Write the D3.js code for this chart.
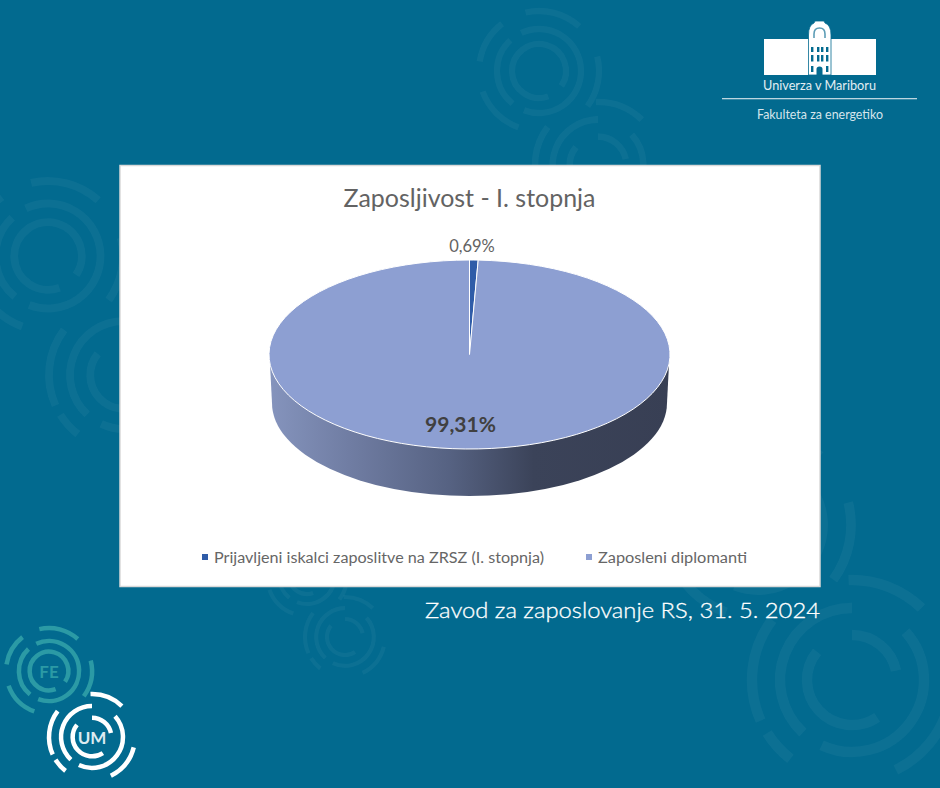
<!DOCTYPE html>
<html><head><meta charset="utf-8">
<script src="https://cdn.jsdelivr.net/npm/d3@7"></script>
<style>html,body{margin:0;padding:0;background:#026a8f}svg{display:block}text{font-family:Lato,"Open Sans",sans-serif}</style>
</head><body><svg id="c" width="940" height="788"></svg>
<script>
const categories = ["Prijavljeni iskalci zaposlitve na ZRSZ (I. stopnja)", "Zaposleni diplomanti"];
const values = [0.69, 99.31];
const valueLabels = ["0,69%", "99,31%"];
const colors = ["#2f5ca8", "#8d9fd2"];
const chartTitle = "Zaposljivost - I. stopnja";
const sourceText = "Zavod za zaposlovanje RS, 31. 5. 2024";

// ring-logo motifs: [radius fraction, start degree, end degree]
const feArcs = [[.45,160,484],[.70,-25,201],[.70,219,317],[1,-13,42],[1,76,126],[1,200,250],[1,279,322]];
const umArcs = [[.45,0,78],[.45,146,309],[.72,-137,0],[.72,48,205],[1,-2,44],[1,104,154],[1,218,238],[1,246,307]];
const bgMotifs = [
  [feArcs,539,71,60],[umArcs,598,165,63],[feArcs,48,256,75],[umArcs,124,375,75],
  [feArcs,758,525,93],[umArcs,852,680,100],[feArcs,307,576,40],[umArcs,345,637,40]
];

const svg = d3.select("#c");
const W = 940, H = 788;
svg.append("rect").attr("width",W).attr("height",H).attr("fill","#026a8f");
const defs = svg.append("defs");

const ringArc = d3.arc();
function motif(arcs,cx,cy,R,color,sw){
  const g = svg.append("g").attr("transform",`translate(${cx},${cy})`);
  g.selectAll("path").data(arcs).join("path")
    .attr("d",a=>ringArc({innerRadius:a[0]*R,outerRadius:a[0]*R,startAngle:a[1]*Math.PI/180,endAngle:a[2]*Math.PI/180}))
    .attr("fill","none").attr("stroke",color).attr("stroke-width",sw).attr("stroke-linecap","round");
}
bgMotifs.forEach(m=>motif(m[0],m[1],m[2],m[3],"rgba(255,255,255,0.042)",m[3]*0.105));

// panel
svg.append("rect").attr("x",120).attr("y",165.5).attr("width",700).attr("height",421)
  .attr("fill","#fff").attr("stroke","#d9d9d9").attr("stroke-width",1.5);

svg.append("text").attr("x",469.5).attr("y",206.5).attr("text-anchor","middle")
  .attr("font-size",24.5).attr("fill","#636363").attr("textLength",252).attr("lengthAdjust","spacingAndGlyphs").text(chartTitle);

// 3D pie
const cx=469.5, cy=354.5, rx=200.5, ry=94.5, depth=48.5, inset=3;
const grad = defs.append("linearGradient").attr("id","side").attr("gradientUnits","userSpaceOnUse")
  .attr("x1",-rx).attr("x2",rx).attr("y1",0).attr("y2",0);
[[0,"#8594bd"],[.2,"#707da3"],[.45,"#566282"],[.66,"#3b4359"],[1,"#383f54"]]
  .forEach(s=>grad.append("stop").attr("offset",s[0]).attr("stop-color",s[1]));

const pie = d3.pie().sort(null).value(d=>d);
const arcs = pie(values);
const arc = d3.arc().innerRadius(0).outerRadius(rx);
const k = ry/rx;
const wall = svg.append("g").attr("transform",`translate(${cx},0)`);
wall.append("path").attr("transform",`translate(0,${cy+depth}) scale(1,${k})`)
  .attr("d",d3.arc()({innerRadius:0,outerRadius:rx-inset,startAngle:0,endAngle:2*Math.PI}))
  .attr("fill","url(#side)");
const side = d3.path();
side.moveTo(-rx+.5,cy); side.lineTo(rx-.5,cy); side.lineTo(rx-inset,cy+depth); side.lineTo(-rx+inset,cy+depth); side.closePath();
wall.append("path").attr("d",side.toString()).attr("fill","url(#side)");

const pieTop = svg.append("g").attr("transform",`translate(${cx},${cy}) scale(1,${k})`);
pieTop.selectAll("path").data(arcs).join("path")
  .attr("d",arc).attr("fill",(d,i)=>colors[i])
  .attr("stroke","#fff").attr("stroke-width",1).attr("vector-effect","non-scaling-stroke");

svg.append("text").attr("x",472).attr("y",252).attr("text-anchor","middle").attr("font-size",16.5).attr("fill","#636363").text(valueLabels[0]);
svg.append("text").attr("x",460.5).attr("y",432).attr("text-anchor","middle").attr("font-size",21).attr("font-weight",700).attr("fill","#404040").text(valueLabels[1]);

// legend
const legX=[202,586], legT=[214,598], legW=[330,149];
const leg = svg.append("g").selectAll("g").data(categories).join("g");
leg.append("rect").attr("x",(d,i)=>legX[i]).attr("y",554).attr("width",6).attr("height",6).attr("fill",(d,i)=>colors[i]);
leg.append("text").attr("x",(d,i)=>legT[i]).attr("y",563).attr("font-size",15.5).attr("fill","#666")
  .attr("textLength",(d,i)=>legW[i]).attr("lengthAdjust","spacingAndGlyphs").text(d=>d);

// source
svg.append("text").attr("x",425).attr("y",618).attr("font-size",22).attr("font-weight",300).attr("fill","#fff").attr("stroke","#fff").attr("stroke-width",.3)
  .attr("textLength",395).attr("lengthAdjust","spacingAndGlyphs").text(sourceText);

// logos
motif(feArcs,49,671,43,"#2b9aa5",4.5);
motif(umArcs,92,737,43,"#fff",4.5);
svg.append("text").attr("x",49).attr("y",678).attr("text-anchor","middle").attr("font-size",17).attr("font-weight",700).attr("fill","#2b9aa5").text("FE");
svg.append("text").attr("x",92).attr("y",744).attr("text-anchor","middle").attr("font-size",17).attr("font-weight",700).attr("fill","#dcebf1").text("UM");

// university mark
const B = svg.append("g");
B.append("rect").attr("x",764).attr("y",39).attr("width",112).attr("height",36).attr("fill","#fff");
B.append("path").attr("d","M808.5 75V35Q808.5 25 814 23L815 21H824L825 23Q831 25 831 35V75Z").attr("fill","#fff").attr("stroke","#026a8f").attr("stroke-width",.8);
B.append("path").attr("d","M814 38V34Q814 28 819.5 28Q825 28 825 34V38").attr("fill","none").attr("stroke","#5d9db6").attr("stroke-width",1.6);
const winX=[811,817,821,826];
[[47,5],[55,6.5],[66,6]].forEach(([y,h])=>winX.forEach((x,i)=>{
  if(y===66 && (i===1||i===2)) return;
  B.append("rect").attr("x",x).attr("y",y).attr("width",2.4).attr("height",h).attr("fill","#026a8f");
}));
B.append("path").attr("d","M816.5 75V69Q816.5 66.5 819.5 66.5Q822.5 66.5 822.5 69V75Z").attr("fill","#026a8f");
svg.append("text").attr("x",763).attr("y",90).attr("font-size",13).attr("fill","#e3eef3").attr("textLength",113).attr("lengthAdjust","spacingAndGlyphs").text("Univerza v Mariboru");
svg.append("rect").attr("x",722).attr("y",98).attr("width",195).attr("height",1.3).attr("fill","#bcd6e0");
svg.append("text").attr("x",757).attr("y",119).attr("font-size",12.5).attr("fill","#d5e5ec").attr("textLength",126).attr("lengthAdjust","spacingAndGlyphs").text("Fakulteta za energetiko");
</script></body></html>
